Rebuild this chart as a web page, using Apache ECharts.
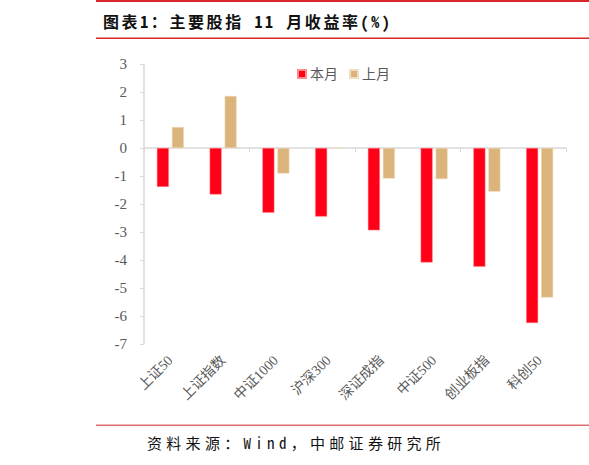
<!DOCTYPE html>
<html>
<head>
<meta charset="utf-8">
<script src="https://cdn.jsdelivr.net/npm/echarts@6/dist/echarts.min.js"></script>
<style>
html,body{margin:0;padding:0;background:#fff;}
#c{width:589px;height:465px;}
</style>
</head>
<body>
<div id="c"></div>
<script>
var categories = ['上证50','上证指数','中证1000','沪深300','深证成指','中证500','创业板指','科创50'];
var thisMonth = [-1.39,-1.66,-2.31,-2.45,-2.94,-4.09,-4.24,-6.25];
var lastMonth = [0.75,1.86,-0.91,0,-1.09,-1.11,-1.56,-5.34];
var seriesNames = ['本月','上月'];
var yTicks = {min:-7, max:3, interval:1};
var titleText = '图表1：主要股指 11 月收益率(%)';
var sourceText = '资料来源：Wind，中邮证券研究所';

var chart = echarts.init(document.getElementById('c'), null, {renderer:'svg'});
var serif = "'Liberation Serif','Noto Sans CJK SC',serif";
var mono = "'Noto Sans Mono CJK SC','DejaVu Sans Mono','Noto Sans CJK SC',monospace";
chart.setOption({
  animation:false,
  backgroundColor:'#fff',
  grid:{left:144,right:23,top:64,bottom:121,containLabel:false},
  legend:{
    data:seriesNames,
    left:292, top:62,
    itemWidth:8, itemHeight:8, itemGap:11,
    icon:'rect',
    textStyle:{color:'#595959',fontSize:14,fontFamily:serif,padding:[0,0,0,-1]}
  },
  xAxis:[{
    type:'category', data:categories,
    axisLine:{onZero:true,lineStyle:{color:'#d9d9d9',width:1.5}},
    axisTick:{show:true,length:4,lineStyle:{color:'#d9d9d9'},alignWithLabel:false},
    axisLabel:{show:false},
    splitLine:{show:false}
  },{
    type:'category', data:categories, position:'bottom',
    axisLine:{show:false,onZero:false},
    axisTick:{show:false},
    axisLabel:{show:true,rotate:45,margin:14,color:'#595959',fontSize:14,fontFamily:serif,interval:0},
    splitLine:{show:false}
  }],
  yAxis:{
    type:'value', min:yTicks.min, max:yTicks.max, interval:yTicks.interval,
    axisLine:{show:true,lineStyle:{color:'#d9d9d9',width:1.5}},
    axisTick:{show:true,length:4,lineStyle:{color:'#d9d9d9'}},
    axisLabel:{color:'#595959',fontSize:15,fontFamily:serif,margin:17},
    splitLine:{show:false}
  },
  series:[{
    name:seriesNames[0], type:'bar', data:thisMonth, barWidth:12, barGap:'25%',
    itemStyle:{color:'#ff0018',borderColor:'#ff8a8a',borderWidth:0.5}
  },{
    name:seriesNames[1], type:'bar', data:lastMonth, barWidth:12,
    itemStyle:{color:'#dbb47c',borderColor:'#f0dcc0',borderWidth:0.5}
  }],
  graphic:[
    {type:'rect',shape:{x:96,y:0,width:493,height:2},style:{fill:'#d9262b'}},
    {type:'rect',shape:{x:96,y:37.5,width:493,height:1.5},style:{fill:'#d9262b'}},
    {type:'text',left:103,top:13,style:{text:titleText,fontSize:16,fontWeight:'bold',fill:'#111',fontFamily:mono}},
    {type:'rect',shape:{x:96,y:424.5,width:493,height:1.5},style:{fill:'#e07070'}},
    {type:'text',left:147,top:435,style:{text:sourceText,fontSize:15,fill:'#111',fontFamily:mono}}
  ]
});
function spaceText(){
  var texts = document.querySelectorAll('#c svg text');
  texts.forEach(function(t){
    if (t.textContent === titleText) t.setAttribute('letter-spacing','2.6');
    if (t.textContent === sourceText) t.setAttribute('letter-spacing','4.3');
  });
}
spaceText();
chart.on('finished', spaceText);
</script>
</body>
</html>
